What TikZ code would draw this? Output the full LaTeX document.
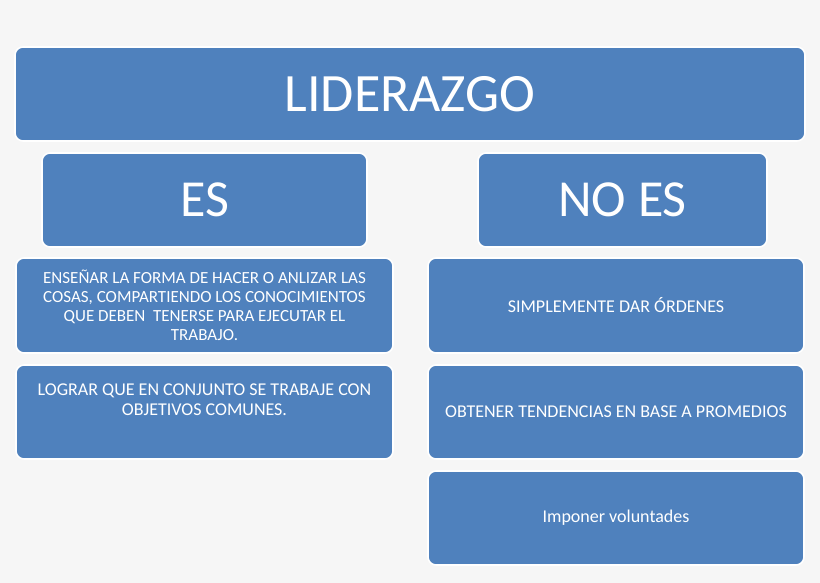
\documentclass[tikz,border=0pt]{standalone}
\usepackage{fontspec}
\setmainfont{Carlito}
\definecolor{bgcol}{HTML}{F6F6F6}
\definecolor{boxblue}{HTML}{4F81BD}
\tikzset{
  box/.style={draw=white, line width=1.6pt, fill=boxblue, rounded corners=8pt,
    text=white, align=center, inner sep=0pt},
  big/.style={font=\fontsize{54}{60}\selectfont},
  mid/.style={font=\fontsize{52}{58}\selectfont},
  small/.style={font=\fontsize{18}{20}\selectfont, text=white, align=center},
  smaller/.style={font=\fontsize{17}{19}\selectfont, text=white, align=center}
}
\begin{document}
\begin{tikzpicture}[x=1pt,y=-1pt]
\fill[bgcol] (0,0) rectangle (820,583);
\useasboundingbox (0,0) rectangle (820,583);
\node[box, big, minimum width=790pt, minimum height=94pt] (lid) at (410,94) {LIDERAZGO};
\node[box, mid, minimum width=325pt, minimum height=94pt] (es) at (204.5,200) {ES};
\node[box, mid, minimum width=289pt, minimum height=94pt] (noes) at (622.5,200) {NO ES};
\node[box, smaller, minimum width=377pt, minimum height=95pt] (l1) at (204.5,305.5)
  {ENSEÑAR LA FORMA DE HACER O ANLIZAR LAS\\COSAS, COMPARTIENDO LOS CONOCIMIENTOS\\QUE DEBEN \ TENERSE PARA EJECUTAR EL\\TRABAJO.};
\node[box, minimum width=377pt, minimum height=94pt] (l2) at (204.5,412) {};
\node[small] (l2t) at (204.5,400) {LOGRAR QUE EN CONJUNTO SE TRABAJE CON\\OBJETIVOS COMUNES.};
\node[box, small, minimum width=376pt, minimum height=95pt] (r1) at (616,305.5) {SIMPLEMENTE DAR ÓRDENES};
\node[box, small, minimum width=376pt, minimum height=94pt] (r2) at (616,412) {OBTENER TENDENCIAS EN BASE A PROMEDIOS};
\node[box, small, minimum width=376pt, minimum height=94pt] (r3) at (616,518) {Imponer voluntades};
\end{tikzpicture}
\end{document}
